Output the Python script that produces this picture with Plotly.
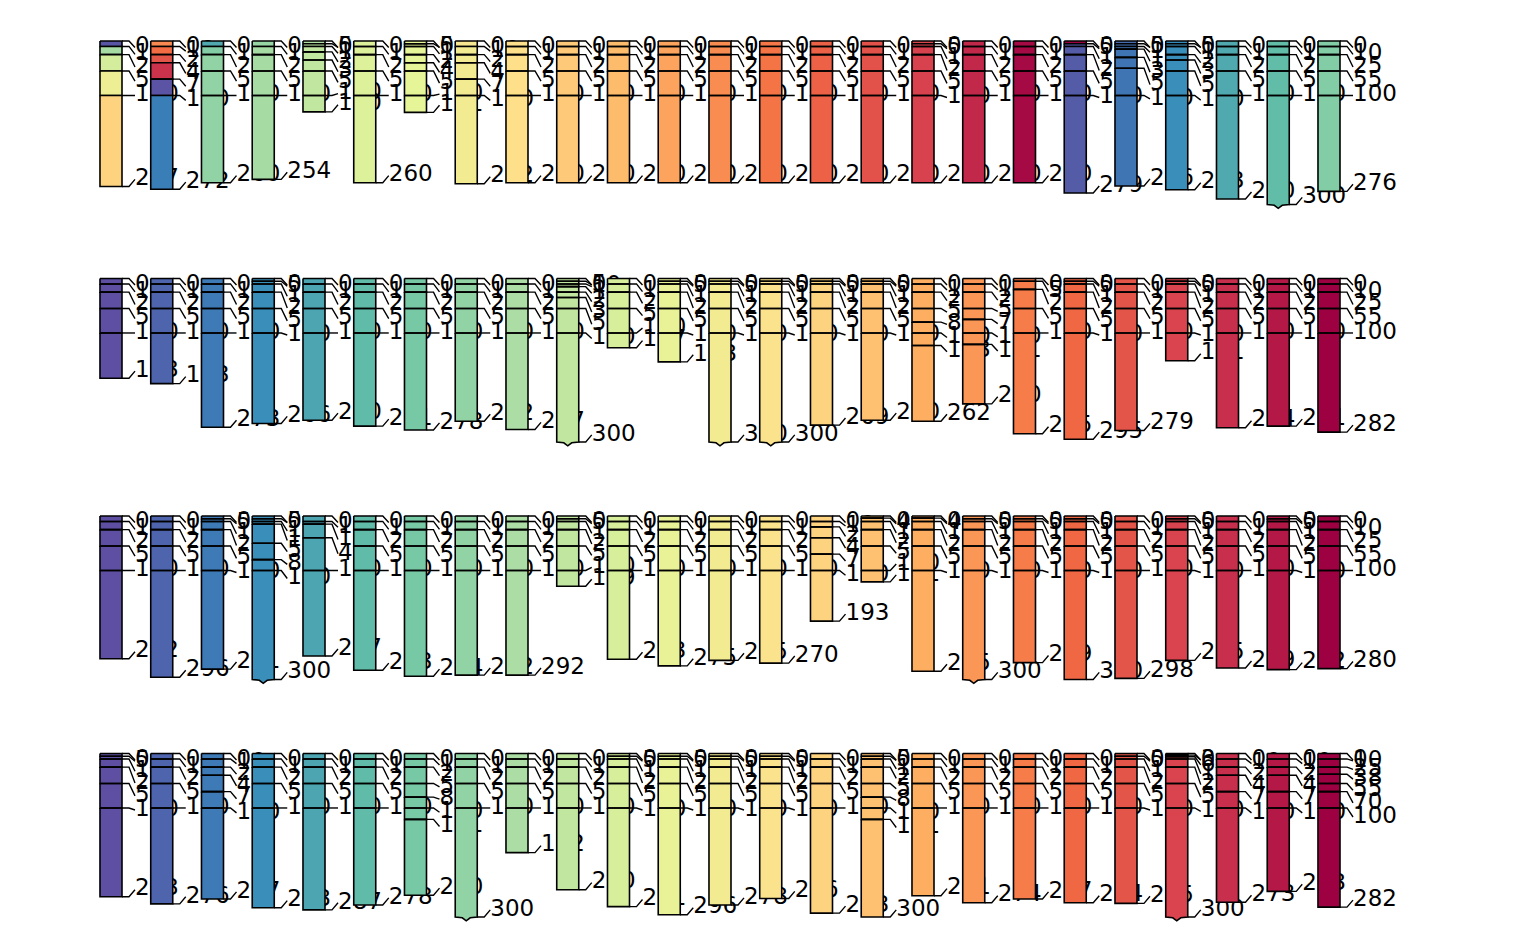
import plotly.graph_objects as go
from plotly.colors import sample_colorscale

# ---------------- palette (RColorBrewer Spectral, 10 classes, reversed) ----------
SPECTRAL10 = ["#5E4FA2", "#3288BD", "#66C2A5", "#ABDDA4", "#E6F598",
              "#FEE08B", "#FDAE61", "#F46D43", "#D53E4F", "#9E0142"]
VALUE_MAX = 24.0
MAX_DEPTH = 300

# ---------------- data: horizon boundaries (cm) per profile, 4 panels of 25 -------
ROW1_BOUNDS = [
    [0, 10, 25, 55, 100, 267], [0, 10, 25, 40, 70, 100, 272], [0, 10, 25, 55, 100, 260],
    [0, 10, 25, 55, 100, 254], [0, 5, 10, 20, 35, 55, 100, 130], [0, 10, 25, 55, 100, 260],
    [0, 5, 10, 25, 40, 55, 100, 131], [0, 10, 25, 40, 70, 100, 262], [0, 10, 25, 55, 100, 260],
    [0, 10, 25, 55, 100, 260], [0, 10, 25, 55, 100, 260], [0, 10, 25, 55, 100, 260],
    [0, 10, 25, 55, 100, 260], [0, 10, 25, 55, 100, 260], [0, 10, 25, 55, 100, 260],
    [0, 10, 25, 55, 100, 260], [0, 5, 10, 25, 55, 100, 260], [0, 10, 25, 55, 100, 260],
    [0, 10, 25, 55, 100, 260], [0, 5, 10, 25, 55, 100, 279], [0, 5, 10, 15, 30, 50, 100, 266],
    [0, 5, 10, 25, 35, 55, 100, 273], [0, 10, 25, 55, 100, 290], [0, 10, 25, 55, 100, 300],
    [0, 10, 25, 55, 100, 276],
]
ROW1_VALUES = [
    [0.3, 7.8, 9.8, 11.5, 14.0], [17.5, 18.7, 20.0, 21.8, 0.2, 2.2], [4.2, 6.4, 7.0, 7.0, 7.0],
    [7.2, 7.8, 7.8, 7.8, 7.8], [8.2, 8.6, 9.0, 9.0, 9.0, 9.0, 9.0], [10.2, 10.2, 10.2, 10.2, 10.2],
    [10.7, 10.7, 10.7, 10.7, 10.7, 10.7, 10.7], [12.4, 12.0, 12.0, 12.0, 12.0, 12.0],
    [13.4, 13.4, 13.4, 13.4, 13.4], [14.5, 14.5, 14.5, 14.5, 14.5], [15.3, 15.3, 15.3, 15.3, 15.3],
    [16.4, 16.4, 16.4, 16.4, 16.4], [17.4, 17.4, 17.4, 17.4, 17.4], [18.2, 18.4, 18.4, 18.4, 18.4],
    [19.3, 19.3, 19.3, 19.3, 19.3], [20.2, 20.2, 20.2, 20.2, 20.2], [20.8, 21.1, 21.1, 21.1, 21.1, 21.1],
    [22.3, 22.3, 22.3, 22.3, 22.3], [23.6, 23.6, 23.6, 23.6, 23.6], [24.0, 0.4, 0.6, 0.6, 0.6, 0.6],
    [1.4, 1.6, 1.8, 1.8, 1.8, 1.8, 1.8], [2.8, 3.0, 3.0, 3.0, 3.0, 3.0, 3.0],
    [4.2, 4.2, 4.2, 4.2, 4.2], [5.1, 5.1, 5.1, 5.1, 5.1], [6.4, 6.4, 6.4, 6.4, 6.4],
]
ROW1_TRUNCATED = [24]

ROW2_BOUNDS = [
    [0, 10, 25, 55, 100, 183], [0, 10, 25, 55, 100, 193], [0, 10, 25, 55, 100, 273],
    [0, 5, 10, 25, 55, 100, 266], [0, 10, 25, 55, 100, 260], [0, 10, 25, 55, 100, 271],
    [0, 10, 25, 55, 100, 278], [0, 10, 25, 55, 100, 262], [0, 10, 25, 55, 100, 277],
    [0, 5, 10, 15, 25, 35, 55, 100, 300], [0, 10, 25, 55, 100, 127], [0, 5, 10, 25, 55, 100, 153],
    [0, 5, 10, 25, 55, 100, 300], [0, 5, 10, 25, 55, 100, 300], [0, 5, 10, 25, 55, 100, 269],
    [0, 5, 10, 25, 55, 100, 260], [0, 10, 25, 55, 80, 100, 123, 262], [0, 10, 25, 55, 75, 100, 121, 230],
    [0, 5, 20, 55, 100, 285], [0, 5, 10, 25, 55, 100, 295], [0, 10, 25, 55, 100, 279],
    [0, 5, 10, 25, 55, 100, 151], [0, 10, 25, 55, 100, 274], [0, 10, 25, 55, 100, 271],
    [0, 10, 25, 55, 100, 282],
]
ROW2_VALUES = [0, 1, 2, 3, 4, 5, 6, 7, 8, 9, 10, 11, 12, 13, 14, 15, 16, 17, 18, 19, 20, 21, 22, 23, 24]
ROW2_TRUNCATED = [10, 13, 14]

ROW3_BOUNDS = [
    [0, 10, 25, 55, 100, 262], [0, 10, 25, 55, 100, 296], [0, 5, 10, 25, 55, 100, 281],
    [0, 5, 10, 15, 50, 80, 100, 300], [0, 10, 15, 40, 100, 257], [0, 10, 25, 55, 100, 283],
    [0, 10, 25, 55, 100, 294], [0, 10, 25, 55, 100, 292], [0, 10, 25, 55, 100, 292],
    [0, 5, 10, 25, 55, 100, 129], [0, 10, 25, 55, 100, 263], [0, 10, 25, 55, 100, 275],
    [0, 10, 25, 55, 100, 265], [0, 10, 25, 55, 100, 270], [0, 10, 20, 40, 70, 100, 193],
    [0, 4, 10, 25, 55, 100, 121], [0, 4, 10, 25, 55, 100, 285], [0, 5, 10, 25, 55, 100, 300],
    [0, 5, 10, 25, 55, 100, 269], [0, 5, 10, 25, 55, 100, 300], [0, 10, 25, 55, 100, 298],
    [0, 5, 10, 25, 55, 100, 265], [0, 10, 25, 55, 100, 279], [0, 5, 10, 25, 55, 100, 282],
    [0, 10, 25, 55, 100, 280],
]
ROW3_VALUES = [0, 1, 2, 3, 4, 5, 6, 7, 8, 9, 10, 11, 12, 13, 14, 15, 16, 17, 18, 19, 20, 21, 22, 23, 24]
ROW3_TRUNCATED = [4, 18]

ROW4_BOUNDS = [
    [0, 5, 10, 25, 55, 100, 263], [0, 10, 25, 55, 100, 276], [0, 10, 25, 40, 70, 100, 267],
    [0, 10, 25, 55, 100, 283], [0, 10, 25, 55, 100, 287], [0, 10, 25, 55, 100, 278],
    [0, 10, 25, 55, 80, 100, 121, 260], [0, 10, 25, 55, 100, 300], [0, 10, 25, 55, 100, 182],
    [0, 10, 25, 55, 100, 250], [0, 5, 10, 25, 55, 100, 281], [0, 5, 10, 25, 55, 100, 296],
    [0, 5, 10, 25, 55, 100, 278], [0, 5, 10, 25, 55, 100, 266], [0, 10, 25, 55, 100, 293],
    [0, 5, 10, 25, 55, 80, 100, 121, 300], [0, 10, 25, 55, 100, 261], [0, 10, 25, 55, 100, 274],
    [0, 10, 25, 55, 100, 267], [0, 10, 25, 55, 100, 274], [0, 5, 10, 25, 55, 100, 275],
    [0, 3, 6, 10, 25, 55, 100, 300], [0, 10, 25, 40, 70, 100, 273], [0, 10, 25, 40, 70, 100, 253],
    [0, 10, 25, 38, 55, 70, 100, 282],
]
ROW4_VALUES = [0, 1, 2, 3, 4, 5, 6, 7, 8, 9, 10, 11, 12, 13, 14, 15, 16, 17, 18, 19, 20, 21, 22, 23, 24]
ROW4_TRUNCATED = [8, 22]

PANELS = [
    (ROW1_BOUNDS, ROW1_VALUES, ROW1_TRUNCATED),
    (ROW2_BOUNDS, ROW2_VALUES, ROW2_TRUNCATED),
    (ROW3_BOUNDS, ROW3_VALUES, ROW3_TRUNCATED),
    (ROW4_BOUNDS, ROW4_VALUES, ROW4_TRUNCATED),
]

# ---------------- geometry / style ----------------
W, H = 1536, 950
X_RANGE = [-1.187, 29.079]
Y_RANGE = [360.6, -75.2]          # reversed depth axis per panel
PX = (X_RANGE[1] - X_RANGE[0]) / W  # x units per pixel
HALF_W = 0.217
LABEL_SEP = 26.0
LABEL_PASSES = 5
LABEL_TOP = 12.0
LABEL_BOTTOM_PAD = 13.0
FONT = dict(family="DejaVu Sans, Liberation Sans, Arial, sans-serif", size=23, color="black")
COLORSCALE = [[i / (len(SPECTRAL10) - 1), c] for i, c in enumerate(SPECTRAL10)]


def color_of(v):
    return sample_colorscale(COLORSCALE, [max(0.0, min(1.0, v / VALUE_MAX))])[0]


def spread(depths, lo, hi, sep, passes):
    pos = [min(max(d, lo), hi) for d in depths]
    for _ in range(passes):
        for i in range(len(pos) - 1):
            gap = pos[i + 1] - pos[i]
            if gap < sep:
                push = (sep - gap) / 2.0
                pos[i] -= push
                pos[i + 1] += push
        pos = [min(max(p, lo), hi) for p in pos]
    return pos


fig = go.Figure()
layout_axes = {}

for r, (bounds_list, values_list, truncated) in enumerate(PANELS):
    xa = "x" if r == 0 else "x%d" % (r + 1)
    ya = "y" if r == 0 else "y%d" % (r + 1)
    layout_axes["xaxis" if r == 0 else "xaxis%d" % (r + 1)] = dict(
        domain=[0, 1], range=X_RANGE, visible=False, fixedrange=True, anchor=ya)
    layout_axes["yaxis" if r == 0 else "yaxis%d" % (r + 1)] = dict(
        domain=[1 - (r + 1) / 4.0, 1 - r / 4.0], range=Y_RANGE, visible=False,
        fixedrange=True, anchor=xa)

    for i, bounds in enumerate(bounds_list):
        xc = i + 1
        x0, x1 = xc - HALF_W, xc + HALF_W
        w = x1 - x0
        vals = values_list[i]
        nh = len(bounds) - 1
        hvals = vals if isinstance(vals, list) else [vals] * nh
        is_trunc = (i + 1) in truncated

        # horizons grouped by colour value (one filled trace per colour)
        groups = {}
        for h in range(nh):
            top, bot = bounds[h], bounds[h + 1]
            if is_trunc and h == nh - 1:
                wave = [(1.0, bot), (0.68, bot + 1.5), (0.5, bot + 7), (0.32, bot + 1.5), (0.0, bot)]
                pts = [(x0, top), (x1, top)] + [(x0 + u * w, d) for u, d in wave] + [(x0, top)]
            else:
                pts = [(x0, top), (x1, top), (x1, bot), (x0, bot), (x0, top)]
            groups.setdefault(hvals[h], []).append(pts)

        for v, polys in groups.items():
            xs, ys = [], []
            for pts in polys:
                xs += [p[0] for p in pts] + [None]
                ys += [p[1] for p in pts] + [None]
            fig.add_trace(go.Scatter(
                x=xs, y=ys, xaxis=xa, yaxis=ya, mode="lines", fill="toself",
                fillcolor=color_of(v), line=dict(color="black", width=1.6),
                hoverinfo="skip", showlegend=False))

        # depth labels with leader lines (drawn before the next profile covers them)
        bottom = bounds[-1]
        pos = spread(bounds, LABEL_TOP, bottom - LABEL_BOTTOM_PAD, LABEL_SEP, LABEL_PASSES)
        lx, ly = [], []
        for d, p in zip(bounds, pos):
            lx += [x1, x1 + 7 * PX, x1 + 13 * PX, None]
            ly += [d, d, p, None]
        fig.add_trace(go.Scatter(
            x=lx, y=ly, xaxis=xa, yaxis=ya, mode="lines",
            line=dict(color="black", width=1.4), hoverinfo="skip", showlegend=False))
        fig.add_trace(go.Scatter(
            x=[x1 + 13 * PX] * len(bounds), y=pos, xaxis=xa, yaxis=ya, mode="text",
            text=[str(d) for d in bounds], textposition="middle right",
            textfont=FONT, hoverinfo="skip", showlegend=False, cliponaxis=False))

fig.update_layout(
    width=W, height=H, margin=dict(l=0, r=0, t=0, b=0),
    paper_bgcolor="white", plot_bgcolor="white", showlegend=False,
    **layout_axes)

fig.write_html("out.html")
